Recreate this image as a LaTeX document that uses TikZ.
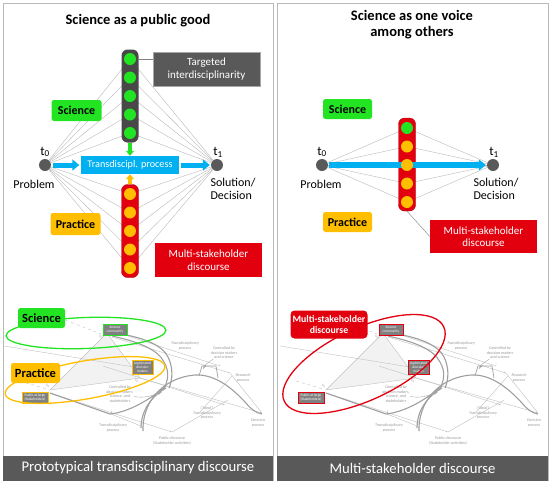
\documentclass[tikz,border=0pt]{standalone}
\usepackage{fontspec}
\setmainfont{Carlito}
\usetikzlibrary{arrows.meta,positioning,calc,shapes}
\definecolor{scigreen}{RGB}{34,228,34}
\definecolor{pracorange}{RGB}{255,190,0}
\definecolor{msred}{RGB}{226,0,14}
\definecolor{tdblue}{RGB}{0,176,240}
\definecolor{darkbox}{RGB}{89,89,89}
\definecolor{colgray}{RGB}{72,72,72}
\tikzset{>=latex}
\tikzset{
  panel/.style={draw=gray!55, line width=0.8pt, minimum height=477pt, inner sep=0pt},
  bar/.style={fill=darkbox, text=white, minimum height=25pt, inner sep=0pt, font=\fontsize{14.7}{17}\selectfont},
  title/.style={font=\bfseries\fontsize{14.5}{16}\selectfont, align=center},
  tag/.style={rounded corners=2.5pt, minimum width=50pt, minimum height=21pt, inner sep=0pt, font=\bfseries\fontsize{12}{13}\selectfont},
  infobox/.style={minimum width=107pt, minimum height=34pt, inner sep=0pt, text=white, align=center, font=\fontsize{11}{12.5}\selectfont},
  tnode/.style={circle, fill=darkbox, minimum size=12pt, inner sep=0pt},
  dot/.style={circle, minimum size=12pt, inner sep=0pt},
  column/.style={rounded corners=6pt, minimum width=17pt, minimum height=93pt, inner sep=0pt},
  fan/.style={gray!55, line width=0.4pt},
  lbl/.style={font=\fontsize{12}{12.5}\selectfont, inner sep=0pt},
  tlbl/.style={font=\fontsize{13}{14}\selectfont, inner sep=0pt},
  tdarrow/.style={tdblue, line width=5pt, -{Triangle[length=7pt,width=11pt]}},
  droparrow/.style={line width=3.5pt, -{Triangle[length=5pt,width=8pt]}},
  ring/.style={line width=1.3pt},
  skthin/.style={gray!50, line width=0.4pt},
  skthick/.style={gray!75, line width=1.1pt},
  sktext/.style={font=\itshape\fontsize{4.1}{4.5}\selectfont, text=gray!80, align=center, inner sep=0pt},
  skbox/.style={fill=gray, text=white, line width=0.9pt, inner sep=0.6pt, align=center, font=\fontsize{3.6}{3.9}\selectfont}
}
% sketch of the transdisciplinary process (box frame colours as arguments)
\newcommand{\tdsketch}[2]{%
  \fill[gray!10] (107,333) -- (50,390) -- (140,378) -- cycle;
  \draw[skthin] (107,333) -- (50,390) -- (140,378) -- cycle;
  \draw[skthin] (4,346) -- (140,368);
  \draw[skthin, dashed] (60,318) -- (101,334);
  \draw[skthin, dashed] (20,381) -- (47,389);
  \draw[skthin, -{Latex[length=2pt,width=1.6pt]}] (103,366) -- (225,405);
  \draw[skthin, -{Latex[length=2pt,width=1.6pt]}] (112,337) -- (230,373);
  \draw[skthin, -{Latex[length=2pt,width=1.6pt]}] (140,378) -- (262,413);
  \draw[skthin, -{Latex[length=2pt,width=1.6pt]}] (50,393) -- (172,432);
  \draw[skthin] (230,373) -- (262,413);
  \draw[skthin] (172,432) -- (228,400);
  \draw[skthin] (232,376) -- (200,412);
  \draw[skthin] (128,333) -- (128,336) -- (220,366) -- (220,363);
  \draw[skthin] (112,410) -- (111,414) -- (141,426) -- (142,422);
  \draw[skthick] (112,336) .. controls (140,342) and (158,350) .. (164,362) .. controls (170,372) and (168,382) .. (163,390);
  \draw[skthick] (121,334) .. controls (145,338) and (163,346) .. (168,357) .. controls (173,367) and (173,379) .. (169,388);
  \draw[skthick] (50,393) -- (110,414) .. controls (130,412) and (152,398) .. (166,386);
  \draw[skthick] (143,431) .. controls (142,405) and (160,378) .. (195,375) .. controls (215,374) and (232,388) .. (245,402) .. controls (252,410) and (256,413) .. (262,414);
  \draw[skthick] (166,388) .. controls (152,396) and (141,410) .. (141,428);
  \draw[skthick, line width=0.7pt] (199,376) -- (202,366) -- (216,366) -- (218,378);
  \node[sktext] (ta) at (101,337) {t\textsubscript{0}};
  \node[sktext] (tb) at (48,386) {t\textsubscript{0}};
  \node[sktext] (tc) at (137,381) {t\textsubscript{0}};
  \node[sktext] (tpu) at (185,346) {Transdisciplinary\\process};
  \node[sktext] (cds) at (224,353) {Controlled by\\decision makers\\and science};
  \node[sktext] (rp) at (243,378) {Research\\process};
  \node[sktext] (ip) at (207,413) {(`Ideal')\\Transdisciplinary\\process};
  \node[sktext] (dp) at (258,423) {Decision\\process};
  \node[sktext] (pd) at (172,441) {Public discourse\\(Stakeholder activities)};
  \node[sktext] (tpl) at (113,428) {Transdisciplinary\\process};
  \node[sktext] (cdss) at (120,394) {Controlled by\\decision makers,\\science, and\\stakeholders};
  \coordinate (hb) at (203,369);
  \coordinate (xb) at (162,392);
  \draw[skthin, gray!70, ->] (cds) to[out=-150, in=60] (hb);
  \draw[skthin, gray!70, ->] (cdss) to[out=-10, in=200] (xb);
  \node[skbox, draw=#1, minimum width=24pt, minimum height=11pt] (sc) at (115,329.5) {Science\\community};
  \node[skbox, draw=#2, minimum width=21pt, minimum height=14pt] (ldm) at (142.5,367) {Legitimated\\decision\\makers};
  \node[skbox, draw=#2, minimum width=26pt, minimum height=11pt] (pal) at (35,397.5) {Public at large\\(Stakeholders)};
}

\begin{document}
\begin{tikzpicture}[x=1pt, y=-1pt]
\useasboundingbox (0,0) rectangle (550,483);
\node[panel, minimum width=270pt] (lpanel) at (138,241.5) {};
\node[panel, minimum width=271pt] (rpanel) at (412.5,241.5) {};
\node[bar, minimum width=270pt] (lbar) at (138,468) {Prototypical transdisciplinary discourse};
\node[bar, minimum width=271pt] (rbar) at (412.5,468) {Multi-stakeholder discourse};

% science as a public good
\node[title] (ltitle) at (138,21) {Science as a public good};
\node[tnode] (lt0) at (45,165) {};
\node[tnode] (lt1) at (217,165) {};
\node[tlbl] (lt0l) at (45,152) {t\textsubscript{0}};
\node[tlbl] (lt1l) at (218,152) {t\textsubscript{1}};
\node[lbl] (lprob) at (34,184) {Problem};
\node[lbl, align=left] (lsol) at (233,189) {Solution/\\Decision};
\foreach \i/\y in {1/59,2/77.5,3/96,4/114.5,5/133} {
  \coordinate (lg\i) at (130,\y);
  \draw[fan] (lt0) -- (lg\i);
  \draw[fan] (lt1) -- (lg\i);
}
\foreach \i/\y in {1/194,2/212.5,3/231,4/249.5,5/268} {
  \coordinate (lo\i) at (130,\y);
  \draw[fan] (lt0) -- (lo\i);
  \draw[fan] (lt1) -- (lo\i);
}
\node[column, fill=colgray] (lgcol) at (130,96) {};
\node[column, fill=msred, draw=msred!80!black] (locol) at (130,231) {};
\foreach \i in {1,...,5} {
  \node[dot, fill=scigreen] (lgd\i) at (lg\i) {};
  \node[dot, fill=pracorange] (lod\i) at (lo\i) {};
}
\node[fill=tdblue, text=white, minimum width=98pt, minimum height=18pt, inner sep=0pt, font=\fontsize{10.2}{11}\selectfont] (ltd) at (130,165) {Transdiscipl. process};
\draw[tdarrow, shorten <=2pt, shorten >=1.5pt] (lt0) -- (ltd);
\draw[tdarrow, shorten <=1.5pt, shorten >=1pt] (ltd) -- (lt1);
\draw[droparrow, scigreen] (lgcol) -- (ltd);
\draw[droparrow, pracorange] (locol) -- (ltd);
\node[infobox, fill=darkbox, draw=gray!70] (lti) at (206.5,69) {Targeted\\interdisciplinarity};
\draw[fan, gray] (lgcol.east |- lgd1) -- (lti.west |- lgd1);
\node[infobox, fill=msred] (lms) at (208.5,260) {Multi-stakeholder\\discourse};
\node[tag, fill=scigreen] (lsci) at (76.5,110.5) {Science};
\node[tag, fill=pracorange, minimum height=22pt] (lprac) at (75.5,224) {Practice};

% science as one voice among others
\node[title] (rtitle) at (412,25) {Science as one voice\\among others};
\node[tnode] (rt0) at (322,165) {};
\node[tnode] (rt1) at (493,165) {};
\node[tlbl] (rt0l) at (322,152) {t\textsubscript{0}};
\node[tlbl] (rt1l) at (494,152) {t\textsubscript{1}};
\node[lbl] (rprob) at (321,184) {Problem};
\node[lbl, align=left] (rsol) at (496,189) {Solution/\\Decision};
\foreach \i/\y in {1/128,2/146.5,3/165,4/183.5,5/202} {
  \coordinate (rv\i) at (407,\y);
  \draw[fan] (rt0) -- (rv\i);
  \draw[fan] (rt1) -- (rv\i);
}
\node[column, fill=msred, draw=msred!80!black] (rcol) at (407,164.5) {};
\draw[tdarrow, line width=6pt, shorten <=1pt, shorten >=1pt] (rt0) -- (rt1);
\node[dot, fill=scigreen] (rvd1) at (rv1) {};
\foreach \i in {2,...,5} {
  \node[dot, fill=pracorange] (rvd\i) at (rv\i) {};
}
\node[tag, fill=scigreen, minimum width=49pt, minimum height=20pt] (rsci) at (347.5,109) {Science};
\node[tag, fill=pracorange, minimum width=49pt, minimum height=20pt] (rprac) at (347.5,222) {Practice};
\node[infobox, fill=msred, minimum height=33pt] (rms) at (483.5,236.5) {Multi-stakeholder\\discourse};
\draw[fan, gray] (rcol.south) -- (rms.west);

% lower sketches
\begin{scope}[name prefix=L-]
  \tdsketch{scigreen}{pracorange}
  \draw[ring, scigreen, rotate around={2:(86,333)}] (86,333) ellipse [x radius=80pt, y radius=15.5pt];
  \draw[ring, pracorange, rotate around={10:(85,380)}] (85,380) ellipse [x radius=81pt, y radius=19pt];
  \node[tag, fill=scigreen, minimum width=47pt, minimum height=20pt, font=\bfseries\fontsize{12.5}{13}\selectfont] (sci) at (41.5,318) {Science};
  \node[tag, fill=pracorange, minimum width=49pt, minimum height=20pt, font=\bfseries\fontsize{12.5}{13}\selectfont] (prac) at (35.5,373) {Practice};
\end{scope}
\begin{scope}[xshift=276pt, name prefix=R-]
  \tdsketch{msred}{msred}
  \draw[ring, msred, rotate around={25:(88,364)}] (88,364) ellipse [x radius=88pt, y radius=36pt];
  \node[tag, fill=msred, text=white, minimum width=77pt, minimum height=28pt, rounded corners=4pt, align=center, font=\bfseries\fontsize{9.8}{11}\selectfont] (ms) at (53,324.5) {Multi-stakeholder\\discourse};
\end{scope}
\end{tikzpicture}
\end{document}
